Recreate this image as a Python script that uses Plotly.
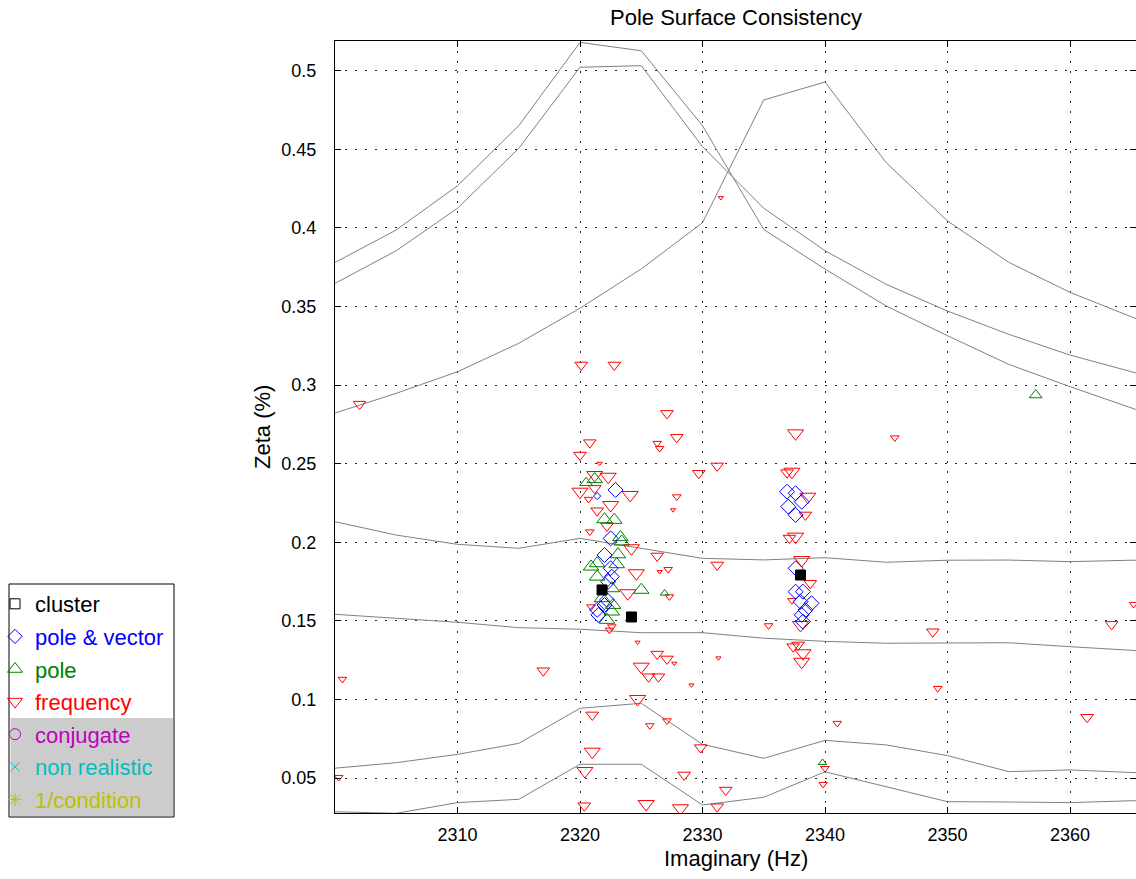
import plotly.graph_objects as go

# ---------------- data ----------------
x_ticks = [2310, 2320, 2330, 2340, 2350, 2360]
x_tick_labels = ["2310", "2320", "2330", "2340", "2350", "2360"]
y_ticks = [0.05, 0.1, 0.15, 0.2, 0.25, 0.3, 0.35, 0.4, 0.45, 0.5]
y_tick_labels = ["0.05", "0.1", "0.15", "0.2", "0.25", "0.3", "0.35", "0.4", "0.45", "0.5"]

curve_x = [2300, 2305, 2310, 2315, 2320, 2325, 2330, 2335, 2340, 2345, 2350, 2355, 2360, 2365, 2370]
curve_a = [0.378, 0.3987, 0.4268, 0.465, 0.518, 0.5127, 0.465, 0.399, 0.3738, 0.3503, 0.3314, 0.3132, 0.299, 0.2853, 0.272]
curve_b = [0.3647, 0.3855, 0.4125, 0.4506, 0.5022, 0.5032, 0.4517, 0.4125, 0.3855, 0.3641, 0.3471, 0.3323, 0.3191, 0.3085, 0.298]
curve_c = [0.2822, 0.2948, 0.3085, 0.3266, 0.3489, 0.3739, 0.4033, 0.4814, 0.4928, 0.4415, 0.4044, 0.3781, 0.359, 0.3435, 0.329]
curve_d = [0.2131, 0.2046, 0.1987, 0.1962, 0.2025, 0.196, 0.1898, 0.1888, 0.1902, 0.1873, 0.1886, 0.1887, 0.1877, 0.1886, 0.1885]
curve_e = [0.1542, 0.1517, 0.1491, 0.1457, 0.1447, 0.1425, 0.1425, 0.139, 0.137, 0.1358, 0.1358, 0.1361, 0.1336, 0.1311, 0.129]
curve_f = [0.0563, 0.0598, 0.0651, 0.0721, 0.0944, 0.0976, 0.0715, 0.0626, 0.074, 0.0711, 0.0643, 0.0541, 0.0552, 0.0533, 0.052]
curve_g = [0.0286, 0.0276, 0.0344, 0.0365, 0.0588, 0.0588, 0.0329, 0.0378, 0.054, 0.0445, 0.035, 0.0348, 0.0344, 0.0356, 0.036]
curves = [curve_a, curve_b, curve_c, curve_d, curve_e, curve_f, curve_g]

# frequency poles (red, down triangles), grouped by marker size class
freq_tiny_x = [2331.5, 2321.6, 2324.7, 2327.7, 2329.1, 2331.3, 2326.5, 2327.6]
freq_tiny_y = [0.4192, 0.2502, 0.1364, 0.123, 0.1092, 0.1264, 0.1813, 0.2206]
freq_small_x = [2345.7, 2300.6, 2300.3, 2349.2, 2365.2, 2341.0, 2340.0, 2339.85, 2325.7, 2327.1,
                2326.3, 2326.5, 2320.7, 2320.8, 2320.9, 2322.6, 2322.4, 2335.4, 2327.9, 2327.3,
                2327.2, 2337.3]
freq_small_y = [0.2665, 0.1129, 0.0505, 0.1071, 0.1606, 0.0849, 0.0562, 0.0461, 0.0834, 0.0865,
                0.263, 0.2598, 0.2274, 0.2067, 0.159, 0.1463, 0.1442, 0.147, 0.229, 0.1654,
                0.1828, 0.163]
freq_med_x = [2302.0, 2317.0, 2348.8, 2361.4, 2363.4, 2329.85, 2331.9, 2331.2, 2326.3, 2327.1,
              2325.6, 2326.4, 2321.0, 2328.5, 2320.35, 2320.1, 2322.8, 2327.1, 2327.9, 2320.8,
              2320.0, 2321.2, 2321.4, 2322.2, 2329.7, 2331.2, 2331.2, 2326.3, 2336.9, 2338.4,
              2337.1, 2338.8, 2337.4, 2337.8]
freq_med_y = [0.2879, 0.1183, 0.1431, 0.0887, 0.1478, 0.0694, 0.0424, 0.0318, 0.1289, 0.1258,
              0.1145, 0.1145, 0.0902, 0.052, 0.0324, 0.3128, 0.3128, 0.282, 0.2668, 0.2634,
              0.2555, 0.2343, 0.2201, 0.2104, 0.2439, 0.2486, 0.1856, 0.1913, 0.2443, 0.2174,
              0.2027, 0.1739, 0.1336, 0.1347]
freq_large_x = [2325.0, 2324.7, 2321.0, 2320.4, 2325.4, 2328.2, 2321.2, 2322.3, 2320.0, 2324.1,
                2322.5, 2324.2, 2324.6, 2323.9, 2337.6, 2337.3, 2338.6, 2337.6, 2338.1, 2338.0,
                2338.2, 2338.1]
freq_large_y = [0.1209, 0.1003, 0.0668, 0.0545, 0.0335, 0.0308, 0.2428, 0.2417, 0.2322, 0.2301,
                0.2237, 0.1962, 0.1803, 0.1676, 0.2693, 0.2449, 0.229, 0.2036, 0.1887, 0.1474,
                0.1294, 0.124]

# pole (green, up triangles)
pole_large_x = [2321.2, 2322.0, 2322.8, 2323.3, 2323.4, 2321.4, 2323.1, 2323.0, 2321.4, 2322.6,
                2325.0, 2321.8, 2322.7, 2322.6, 2322.2, 2320.9]
pole_large_y = [0.2401, 0.2146, 0.2142, 0.2032, 0.2004, 0.1866, 0.1923, 0.186, 0.1781, 0.1707,
                0.1697, 0.1644, 0.1601, 0.1559, 0.1506, 0.1845]
pole_med_x = [2357.2, 2320.5]
pole_med_y = [0.2937, 0.2379]
pole_small_x = [2339.8, 2326.9]
pole_small_y = [0.0598, 0.1676]

# pole & vector (blue diamonds)
pv_large_x = [2322.9, 2322.5, 2322.0, 2322.5, 2322.6, 2322.3, 2322.2, 2322.0, 2321.4, 2321.5,
              2336.9, 2337.6, 2338.1, 2337.0, 2337.6, 2337.6, 2337.6, 2338.2, 2338.9, 2338.0,
              2338.4, 2338.1, 2338.2]
pv_large_y = [0.2333, 0.2025, 0.1919, 0.1835, 0.1781, 0.1749, 0.1633, 0.1601, 0.157, 0.1538,
              0.2322, 0.2312, 0.2258, 0.2227, 0.2174, 0.1835, 0.1686, 0.1686, 0.1612, 0.1622,
              0.1569, 0.1538, 0.1495]
pv_small_x = [2321.4]
pv_small_y = [0.2294]

# clusters (black squares)
cluster_x = [2321.8, 2324.2, 2338.0]
cluster_y = [0.1697, 0.1525, 0.1792]

legend_names = ["cluster", "pole &amp; vector", "pole", "frequency", "conjugate", "non realistic", "1/condition"]

# ---------------- figure ----------------
W, H = 1136, 879
FONT = "Liberation Sans, Arial, Helvetica, sans-serif"
RED, BLUE, GREEN = "#ff0000", "#0000ff", "#008000"
MAG, CYAN, OLIVE = "#bf00bf", "#00bfbf", "#bfbf00"

fig = go.Figure()

for cy in curves:
    fig.add_trace(go.Scatter(x=curve_x, y=cy, mode="lines",
                             line=dict(color="rgb(128,128,128)", width=1),
                             showlegend=False, hoverinfo="skip"))


def add_markers(xs, ys, symbol, color, size):
    fig.add_trace(go.Scatter(
        x=xs, y=ys, mode="markers", showlegend=False,
        marker=dict(symbol=symbol, size=size, color=color,
                    line=dict(color=color, width=1))))


add_markers(freq_tiny_x, freq_tiny_y, "triangle-down-open", RED, 4.5)
add_markers(freq_small_x, freq_small_y, "triangle-down-open", RED, 7.5)
add_markers(freq_med_x, freq_med_y, "triangle-down-open", RED, 11)
add_markers(freq_large_x, freq_large_y, "triangle-down-open", RED, 14)
add_markers(pole_small_x, pole_small_y, "triangle-up-open", GREEN, 7.5)
add_markers(pole_med_x, pole_med_y, "triangle-up-open", GREEN, 11)
add_markers(pole_large_x, pole_large_y, "triangle-up-open", GREEN, 13.5)
add_markers(pv_small_x, pv_small_y, "diamond-open", BLUE, 5.5)
add_markers(pv_large_x, pv_large_y, "diamond-open", BLUE, 11.5)
add_markers(cluster_x, cluster_y, "square", "#000000", 10)

# legend-only entries
leg_styles = [("square-open", "#000000", 10), ("diamond-open", BLUE, 11),
              ("triangle-up-open", GREEN, 13), ("triangle-down-open", RED, 13),
              ("circle-open", MAG, 11), ("x-thin-open", CYAN, 9), ("asterisk-open", OLIVE, 11)]
for i, (name, (sym, col, sz)) in enumerate(zip(legend_names, leg_styles)):
    fig.add_trace(go.Scatter(
        x=[None], y=[None], mode="markers", legendgroup="g%d" % i,
        name="<span style='color:%s'>%s</span>" % (col, name),
        marker=dict(symbol=sym, size=sz, color=col, line=dict(color=col, width=1))))

# invisible trace to carry right-side ticks
fig.add_trace(go.Scatter(x=[None], y=[None], yaxis="y2", showlegend=False, hoverinfo="skip"))

px_l, px_r, px_t, px_b = 335, 1136, 41, 813
x_dom = [px_l / W, px_r / W]
y_dom = [1 - px_b / H, 1 - px_t / H]
x_range = [2300, 2300 + (px_r - px_l) / 12.25]
y_range = [0.5 - (px_b - 70.7) / 1572, 0.5 + (70.7 - px_t) / 1572]

grid = dict(showgrid=True, gridcolor="rgba(0,0,0,0.85)", gridwidth=1, griddash="1.5px,8.5px")

fig.update_layout(
    width=W, height=H, autosize=False,
    margin=dict(l=0, r=0, t=0, b=0, autoexpand=False),
    paper_bgcolor="white", plot_bgcolor="white",
    font=dict(family=FONT, size=18, color="black"),
    xaxis=dict(domain=x_dom, range=x_range, tickvals=x_ticks, ticktext=x_tick_labels,
               ticks="inside", ticklen=6, tickcolor="black", tickwidth=1,
               showline=True, linecolor="black", linewidth=1, mirror="ticks",
               zeroline=False, ticklabelstandoff=5, tickfont=dict(size=18), **grid),
    yaxis=dict(domain=y_dom, range=y_range, tickvals=y_ticks, ticktext=y_tick_labels,
               ticks="inside", ticklen=6, tickcolor="black", tickwidth=1,
               showline=True, linecolor="black", linewidth=1, mirror=False,
               zeroline=False, ticklabelstandoff=14, tickfont=dict(size=18), **grid),
    yaxis2=dict(overlaying="y", side="right", range=y_range, tickvals=y_ticks,
                ticks="inside", ticklen=6, tickcolor="black", showticklabels=False,
                showline=False, showgrid=False, zeroline=False),
    showlegend=True,
    legend=dict(x=-5 / W, y=1 - 583 / H, xanchor="left", yanchor="top",
                bgcolor="rgba(0,0,0,0)", borderwidth=0, tracegroupgap=1,
                font=dict(family=FONT, size=22), itemsizing="trace"),
    annotations=[
        dict(text="Pole Surface Consistency", x=735.5 / W, y=1 - 17 / H, xref="paper", yref="paper",
             showarrow=False, xanchor="center", yanchor="middle", font=dict(size=22)),
        dict(text="Imaginary (Hz)", x=735.5 / W, y=1 - 858 / H, xref="paper", yref="paper",
             showarrow=False, xanchor="center", yanchor="middle", font=dict(size=22)),
        dict(text="Zeta (%)", x=262 / W, y=1 - 427 / H, xref="paper", yref="paper",
             showarrow=False, xanchor="center", yanchor="middle", textangle=-90, font=dict(size=22)),
    ],
    shapes=[
        dict(type="rect", xref="paper", yref="paper", x0=9 / W, x1=174 / W, y0=1 - 817 / H, y1=1 - 584 / H,
             fillcolor="white", line=dict(width=0), layer="above"),
        dict(type="rect", xref="paper", yref="paper", x0=10.5 / W, x1=173 / W, y0=1 - 816 / H, y1=1 - 718 / H,
             fillcolor="rgb(204,204,204)", line=dict(width=0), layer="above"),
        dict(type="rect", xref="paper", yref="paper", x0=9 / W, x1=174 / W, y0=1 - 817 / H, y1=1 - 584 / H,
             fillcolor="rgba(0,0,0,0)", line=dict(color="black", width=1), layer="above"),
    ],
)

fig.write_html("out.html")
